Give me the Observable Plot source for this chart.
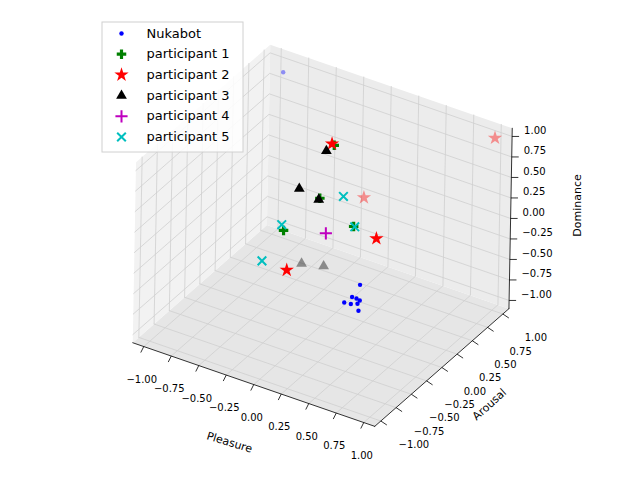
<!DOCTYPE html>
<html><head>
<script src="https://cdn.jsdelivr.net/npm/d3@7"></script>
<script src="https://cdn.jsdelivr.net/npm/@observablehq/plot@0.6"></script>
<style>body{margin:0;background:#fff}</style>
</head><body><div id="chart"></div>
<script>
// [pleasure, arousal, dominance]
const nukabot = [[0.51,-0.3,-0.17],[0.44,-0.3,-0.35],[0.48,-0.3,-0.35],[0.37,-0.3,-0.45],[0.43,-0.3,-0.44],[0.49,-0.3,-0.41],[0.50,-0.3,-0.49],[0.51,-0.3,-0.36],[-0.87,0.9,1.0]];
const participant1 = [[-0.18,0.5,0.69],[-0.03,0,0.44],[0.28,0,0.24],[-0.19,-0.3,0.17]];
const participant2 = [[1.0,1.0,1.0],[-0.12,0.9,-0.18],[0.65,-0.3,0.46],[-0.2,0.5,0.7],[-0.48,0.3,-0.84]];
const participant3 = [[-0.25,0.5,0.59],[-0.38,0.3,0.2],[-0.04,0,0.42],[-0.51,0.6,-0.97],[-0.31,0.6,-0.91]];
const participant4 = [[0.03,0,0.04]];
const participant5 = [[0.02,0.3,0.29],[-0.37,0,-0.04],[-0.38,-0.3,-0.29],[0.29,0,0.24]];
const seriesNames = ["Nukabot","participant 1","participant 2","participant 3","participant 4","participant 5"];
const seriesData = [nukabot,participant1,participant2,participant3,participant4,participant5];
const seriesColors = ["#0000ff","#008000","#ff0000","#000000","#bf00bf","#00bfbf"];
const seriesSymbols = ["circle","cross","star","triangle","plus","times"];
const ticks = [-1,-0.75,-0.5,-0.25,0,0.25,0.5,0.75,1];
const axisTitles = ["Pleasure","Arousal","Dominance"];

const L = 1.1;
const P = (x,y,z) => [322+110*x+61*y+1.5*z, 235+38*x-53.5*y-82*z];
const poly = (pts,id) => pts.map(p => {const q=P(...p); return {x:q[0],y:q[1],id};});

const panes = [
  ...poly([[-L,-L,-L],[L,-L,-L],[L,L,-L],[-L,L,-L],[-L,-L,-L]],"floor"),
  ...poly([[-L,-L,-L],[-L,L,-L],[-L,L,L],[-L,-L,L],[-L,-L,-L]],"left"),
  ...poly([[-L,L,-L],[L,L,-L],[L,L,L],[-L,L,L],[-L,L,-L]],"back")
];
const paneFill = {floor:"#e6e6e6", left:"#f2f2f2", back:"#ececec"};
const grid = [];
ticks.forEach((t,i) => {
  const segs = [
    [[t,-L,-L],[t,L,-L],[t,L,L]],
    [[-L,t,-L],[L,t,-L]], [[-L,t,-L],[-L,t,L]],
    [[-L,-L,t],[-L,L,t],[L,L,t]]
  ];
  segs.forEach((s,j) => grid.push(...poly(s, i+"-"+j)));
});
const edges = [
  ...poly([[-L,-L,-L],[L,-L,-L]],"ex"),
  ...poly([[L,-L,-L],[L,L,-L]],"ey"),
  ...poly([[L,L,-L],[L,L,L]],"ez")
];
const tickMarks = [], tickLabels = [];
ticks.forEach(t => {
  const fmt = t.toFixed(2).replace("-","\u2212");
  let a=P(t,-L,-L); tickMarks.push({x1:a[0],y1:a[1],x2:a[0]-3,y2:a[1]+6});
  tickLabels.push({x:a[0]-2,y:a[1]+33,t:fmt,anchor:"middle"});
  a=P(L,t,-L); tickMarks.push({x1:a[0],y1:a[1],x2:a[0]+6,y2:a[1]+4});
  tickLabels.push({x:a[0]+33,y:a[1]+24,t:fmt,anchor:"middle"});
  a=P(L,L,t); tickMarks.push({x1:a[0],y1:a[1],x2:a[0]+7,y2:a[1]});
  tickLabels.push({x:a[0]+12,y:a[1]-6,t:fmt,anchor:"start"});
});

const pts = [];
seriesData.forEach((arr,i) => arr.forEach(([x,y,z]) => {
  const q = P(x,y,z);
  pts.push({x:q[0],y:q[1],s:i,alpha: y>0.55 ? 0.4 : 1});
}));
const legend = seriesNames.map((n,i)=>({n,i,x:121,tx:146,y:33+i*20.7}));
const titles = [
  {t:axisTitles[0],x:229,y:442,r:17},
  {t:axisTitles[1],x:489,y:404,r:-42},
  {t:axisTitles[2],x:577,y:205,r:-90}
];
const legendBox = [{x1:102,x2:243,y1:22,y2:152}];
const rFor = sym => sym==="circle"?2.2:sym==="star"?4.5:4;
const isStroked = sym => sym==="plus"||sym==="times";

const chart = Plot.plot({
  width:640,height:480,marginTop:0,marginRight:0,marginBottom:0,marginLeft:0,
  x:{type:"identity"},y:{type:"identity"},
  style:{fontFamily:"DejaVu Sans",fontSize:"10px"},
  marks:[
    ...["floor","left","back"].map(id => Plot.line(panes.filter(d=>d.id===id),{x:"x",y:"y",fill:paneFill[id],stroke:"none"})),
    Plot.line(grid,{x:"x",y:"y",z:"id",stroke:"#cfcfcf",strokeWidth:0.8}),
    Plot.line(edges,{x:"x",y:"y",z:"id",stroke:"#000",strokeWidth:0.8}),
    Plot.link(tickMarks,{x1:"x1",y1:"y1",x2:"x2",y2:"y2",stroke:"#000",strokeWidth:0.8}),
    Plot.text(tickLabels.filter(d=>d.anchor==="middle"),{x:"x",y:"y",text:"t",textAnchor:"middle",fill:"#000"}),
    Plot.text(tickLabels.filter(d=>d.anchor==="start"),{x:"x",y:"y",text:"t",textAnchor:"start",fill:"#000"}),
    ...titles.map(d => Plot.text([d],{x:"x",y:"y",text:"t",rotate:d.r,fontSize:11,fill:"#000"})),
    ...seriesSymbols.map((sym,i) => Plot.dot(pts.filter(d=>d.s===i), {x:"x",y:"y",symbol:sym,r:rFor(sym),
      fill: isStroked(sym)?"none":seriesColors[i], stroke: isStroked(sym)?seriesColors[i]:"none", strokeWidth:2,
      fillOpacity:"alpha", strokeOpacity:"alpha"})),
    Plot.rect(legendBox,{x1:"x1",x2:"x2",y1:"y1",y2:"y2",fill:"#fff",fillOpacity:0.85,stroke:"#d0d0d0"}),
    ...legend.map(d => {
      const sym = seriesSymbols[d.i];
      return Plot.dot([d],{x:"x",y:"y",symbol:sym,r:rFor(sym),
        fill:isStroked(sym)?"none":seriesColors[d.i],stroke:isStroked(sym)?seriesColors[d.i]:"none",strokeWidth:2});
    }),
    Plot.text(legend,{x:"tx",y:"y",text:"n",textAnchor:"start",fontSize:13,fill:"#000"})
  ]
});
document.getElementById("chart").append(chart);
</script></body></html>
